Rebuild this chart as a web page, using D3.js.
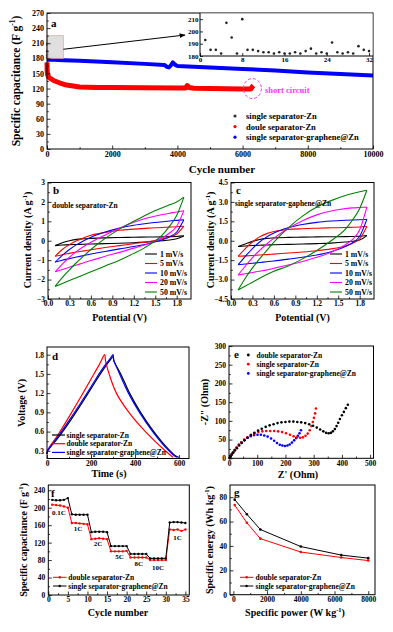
<!DOCTYPE html>
<html>
<head>
<meta charset="utf-8">
<script src="https://cdn.jsdelivr.net/npm/d3@7"></script>
<style>
body { margin: 0; background: #fff; }
text { font-family: "Liberation Serif", "Times New Roman", serif; font-weight: bold; fill: #000; }
</style>
</head>
<body>
<svg id="fig" width="393" height="632"></svg>
<script>
// ---- panel a : cycling ----
var insetCycle = d3.range(1, 33);
var insetCap = [193, 185, 185, 182, 207, 195, 182, 210, 185, 185, 184, 183, 183, 182, 183, 182,
                182, 183, 182, 184, 186, 182, 183, 182, 191, 183, 182, 183, 182, 188, 185, 184];
var blueCycle = [0, 200, 500, 1000, 2000, 3000, 3600, 3680, 3740, 3800, 3860, 3900, 3960, 4000, 5000, 6000, 7000, 8000, 9000, 10000];
var blueCap   = [177, 177, 176, 175, 172, 169, 167, 163, 162, 166, 172, 169, 166, 165, 162, 159, 156, 152, 149, 146];
var redCycle = [0, 5, 20, 50, 100, 200, 400, 600, 1000, 1500, 2000, 3000, 4000, 4250, 4300, 4360, 4500, 5000, 6000, 6250, 6300, 6330];
var redCap   = [172, 155, 147, 143, 140, 136, 131, 127, 123, 122, 122, 121.5, 121, 121, 126, 122, 120.5, 120, 119, 119, 124, 126];
var legendA = ['single separator-Zn', 'doule separator-Zn', 'single separator-graphene@Zn'];

// ---- panels b, c : CV ----
var scanRates = ['1 mV/s', '5 mV/s', '10 mV/s', '20 mV/s', '50 mV/s'];
var cvColors = ['#000000', '#ff0000', '#0000ff', '#ff00ff', '#008000'];
var cvV = [0.1, 0.2, 0.3, 0.4, 0.5, 0.6, 0.8, 1.0, 1.2, 1.4, 1.6, 1.7, 1.8, 1.9];
var cvBUp = [
  [-0.25, -0.1, 0.0, 0.07, 0.1, 0.12, 0.15, 0.17, 0.18, 0.19, 0.2, 0.21, 0.22, 0.25],
  [-0.8, -0.45, -0.2, 0.0, 0.15, 0.28, 0.43, 0.54, 0.6, 0.65, 0.68, 0.7, 0.72, 0.75],
  [-1.1, -0.75, -0.45, -0.2, 0.0, 0.18, 0.45, 0.65, 0.8, 0.9, 0.98, 1.02, 1.05, 1.08],
  [-1.6, -1.2, -0.85, -0.55, -0.3, -0.08, 0.3, 0.65, 0.95, 1.18, 1.35, 1.42, 1.48, 1.55],
  [-2.35, -1.9, -1.5, -1.12, -0.78, -0.45, 0.12, 0.6, 1.0, 1.38, 1.7, 1.85, 2.0, 2.25]
];
var cvBDown = [
  [-0.25, -0.22, -0.2, -0.19, -0.18, -0.17, -0.15, -0.13, -0.1, -0.06, 0.0, 0.04, 0.1, 0.25],
  [-0.8, -0.72, -0.65, -0.58, -0.52, -0.46, -0.35, -0.25, -0.15, -0.05, 0.1, 0.2, 0.35, 0.75],
  [-1.1, -1.0, -0.92, -0.84, -0.76, -0.68, -0.55, -0.42, -0.3, -0.15, 0.05, 0.2, 0.45, 1.08],
  [-1.6, -1.48, -1.36, -1.25, -1.13, -1.02, -0.8, -0.6, -0.38, -0.15, 0.15, 0.4, 0.75, 1.55],
  [-2.35, -2.2, -2.05, -1.9, -1.75, -1.6, -1.3, -1.0, -0.65, -0.25, 0.3, 0.75, 1.3, 2.25]
];
var cvCUp = [
  [-0.45, -0.25, -0.05, 0.1, 0.18, 0.22, 0.26, 0.28, 0.3, 0.31, 0.32, 0.33, 0.35, 0.4],
  [-1.2, -0.6, -0.1, 0.3, 0.55, 0.72, 0.87, 0.93, 0.97, 1.0, 1.02, 1.04, 1.06, 1.1],
  [-1.85, -1.2, -0.6, -0.1, 0.3, 0.6, 1.0, 1.25, 1.42, 1.52, 1.58, 1.6, 1.62, 1.65],
  [-2.65, -1.95, -1.3, -0.75, -0.25, 0.2, 0.95, 1.55, 2.0, 2.3, 2.48, 2.54, 2.57, 2.6],
  [-3.8, -2.9, -2.1, -1.4, -0.75, -0.1, 1.0, 1.9, 2.6, 3.1, 3.5, 3.65, 3.78, 3.9]
];
var cvCDown = [
  [-0.45, -0.4, -0.37, -0.35, -0.33, -0.31, -0.28, -0.25, -0.22, -0.18, -0.1, -0.04, 0.06, 0.4],
  [-1.2, -1.17, -1.14, -1.1, -1.07, -1.03, -0.95, -0.87, -0.77, -0.63, -0.4, -0.2, 0.15, 1.1],
  [-1.85, -1.8, -1.74, -1.68, -1.62, -1.56, -1.42, -1.27, -1.1, -0.85, -0.45, -0.15, 0.35, 1.65],
  [-2.65, -2.55, -2.45, -2.35, -2.25, -2.13, -1.88, -1.6, -1.28, -0.88, -0.3, 0.1, 0.85, 2.6],
  [-3.8, -3.5, -3.2, -2.9, -2.6, -2.35, -1.95, -1.4, -0.75, 0.0, 0.9, 1.6, 2.5, 3.9]
];

// ---- panel d : GCD ----
var gcdNames = ['single separator-Zn', 'double separator-Zn', 'single separator-graphene@Zn'];
var gcdColors = ['#000000', '#ff0000', '#0000ff'];
var tBlack = [0, 3, 50, 100, 150, 200, 250, 290, 300, 304, 335, 375, 425, 485, 545, 585, 600];
var vBlack = [0.25, 0.3, 0.5, 0.74, 1.0, 1.27, 1.54, 1.73, 1.77, 1.7, 1.5, 1.2, 0.9, 0.6, 0.35, 0.22, 0.2];
var tRed = [0, 3, 50, 100, 150, 200, 240, 262, 266, 282, 315, 372, 447, 537, 572];
var vRed = [0.25, 0.31, 0.55, 0.83, 1.12, 1.42, 1.66, 1.8, 1.7, 1.5, 1.2, 0.9, 0.6, 0.3, 0.2];
var tBlue = [0, 3, 50, 100, 150, 200, 250, 285, 300, 303, 330, 370, 420, 480, 540, 580, 592];
var vBlue = [0.25, 0.3, 0.52, 0.77, 1.03, 1.3, 1.57, 1.73, 1.8, 1.72, 1.5, 1.2, 0.9, 0.6, 0.35, 0.22, 0.2];

// ---- panel e : EIS ----
var eisNames = ['double separator-Zn', 'single separator-Zn', 'single separator-graphene@Zn'];
var eisColors = ['#000000', '#ff0000', '#0000ff'];
var reBlack = [3, 6, 10, 15, 21, 28, 36, 45, 55, 66, 78, 90, 103, 116, 130, 144, 158, 172, 186, 200, 214, 228, 242, 256, 270, 284, 298, 311, 323, 334, 344, 353, 361, 368, 375, 381, 387, 393, 400, 407, 414, 421];
var imBlack = [1, 5, 10, 15, 21, 27, 34, 41, 48, 55, 62, 68, 74, 79, 84, 88, 91, 94, 96, 97, 98, 98, 97, 96, 94, 91, 87, 82, 77, 72, 68, 67, 68, 72, 78, 86, 95, 105, 115, 124, 134, 143];
var reRed = [2, 5, 9, 14, 20, 27, 35, 44, 54, 65, 77, 90, 104, 118, 132, 146, 160, 174, 188, 202, 216, 229, 241, 252, 262, 271, 279, 286, 292, 297, 301, 305, 308];
var imRed = [1, 5, 10, 16, 22, 29, 36, 43, 50, 56, 62, 66, 70, 72, 73, 73, 73, 72, 70, 67, 63, 59, 56, 55, 56, 60, 66, 75, 86, 97, 108, 120, 133];
var reBlue = [2, 5, 9, 14, 20, 27, 35, 44, 54, 65, 77, 89, 101, 113, 125, 137, 149, 160, 170, 180, 189, 198, 207, 215, 223, 231, 238, 244, 250, 255];
var imBlue = [1, 5, 10, 16, 22, 29, 36, 43, 49, 55, 59, 62, 63, 63, 61, 58, 53, 47, 41, 36, 34, 33, 34, 37, 42, 48, 54, 60, 67, 75];

// ---- panel f : rate ----
var rateCycle = d3.range(1, 36);
var rateRed = [207, 206, 205, 203, 200, 165, 165, 164, 163, 162, 128, 129, 130, 129, 128, 100, 100, 100, 100, 101,
               86, 86, 86, 86, 86, 80, 80, 80, 80, 80, 150, 149, 150, 147, 150];
var rateBlack = [218, 217, 217, 218, 222, 185, 184, 184, 184, 184, 144, 145, 145, 145, 144, 112, 112, 112, 112, 112,
                 94, 94, 94, 94, 94, 84, 84, 84, 84, 84, 166, 167, 167, 166, 165];
var rateLabels = ['0.1C', '1C', '2C', '5C', '8C', '10C', '1C'];
var twoNames = ['double separator-Zn', 'single separator-graphene@Zn'];

// ---- panel g : Ragone ----
var power = [80, 800, 1600, 4000, 6400, 8000];
var energyRed = [73.5, 59, 46, 35, 30.5, 28];
var energyBlack = [78, 66, 53.5, 39.5, 32.5, 30];

var svg = d3.select('#fig');

function panel(box, xDom, yDom) {
	var x = d3.scaleLinear().domain(xDom).range([box.l, box.r]);
	var y = d3.scaleLinear().domain(yDom).range([box.b, box.t]);
	return { x: x, y: y, box: box };
}

// inward ticks + frame, like Origin
function axes(p, xTicks, yTicks, fs, xFmt, yFmt) {
	var b = p.box;
	var minor = function(t) {
		var m = [];
		for (var i = 0; i < t.length - 1; i++) m.push((t[i] + t[i + 1]) / 2);
		return m;
	};
	var g1 = svg.append('g').attr('transform', 'translate(0,' + b.b + ')')
		.call(d3.axisBottom(p.x).tickValues(minor(xTicks)).tickSizeInner(-1.8).tickSizeOuter(0).tickFormat(''));
	var g2 = svg.append('g').attr('transform', 'translate(' + b.l + ',0)')
		.call(d3.axisLeft(p.y).tickValues(minor(yTicks)).tickSizeInner(-1.8).tickSizeOuter(0).tickFormat(''));
	var gx = svg.append('g').attr('transform', 'translate(0,' + b.b + ')')
		.call(d3.axisBottom(p.x).tickValues(xTicks).tickSizeInner(-3.5).tickSizeOuter(0).tickPadding(2).tickFormat(xFmt));
	var gy = svg.append('g').attr('transform', 'translate(' + b.l + ',0)')
		.call(d3.axisLeft(p.y).tickValues(yTicks).tickSizeInner(-3.5).tickSizeOuter(0).tickPadding(3).tickFormat(yFmt));
	[g1, g2, gx, gy].forEach(function(g) {
		g.select('.domain').remove();
		g.selectAll('text').style('font-size', fs + 'px').attr('fill', '#000');
		g.selectAll('line').attr('stroke', '#000').attr('stroke-width', 0.8);
	});
	svg.append('rect').attr('x', b.l).attr('y', b.t).attr('width', b.r - b.l).attr('height', b.b - b.t)
		.attr('fill', 'none').attr('stroke', '#000').attr('stroke-width', 1);
}

function title(x, y, fs, parts, rotate) {
	var t = svg.append('text').attr('text-anchor', 'middle').style('font-size', fs + 'px');
	if (rotate) t.attr('transform', 'translate(' + x + ',' + y + ') rotate(-90)');
	else t.attr('x', x).attr('y', y);
	t.append('tspan').text(parts[0]);
	if (parts.length > 1) {
		t.append('tspan').attr('dy', -fs * 0.4).style('font-size', (fs * 0.65) + 'px').text(parts[1]);
		t.append('tspan').attr('dy', fs * 0.4).text(parts[2]);
	}
}

function label(x, y, fs, s, color) {
	return svg.append('text').attr('x', x).attr('y', y).style('font-size', fs + 'px')
		.attr('fill', color || '#000').style('fill', color || '#000').text(s);
}

var f1 = d3.format('.1f');
var fd = d3.format('d');

// ================= panel a =================
var pa = panel({ l: 47, r: 373, t: 13, b: 149 }, [0, 10000], [0, 270]);
var lineA = d3.line().x(function(d) { return pa.x(d[0]); }).y(function(d) { return pa.y(d[1]); });
svg.append('path').datum(d3.zip(redCycle, redCap)).attr('d', lineA)
	.attr('fill', 'none').attr('stroke', '#ff0000').attr('stroke-width', 5).attr('stroke-linejoin', 'round');
svg.append('path').datum(d3.zip(blueCycle, blueCap)).attr('d', lineA)
	.attr('fill', 'none').attr('stroke', '#0000ff').attr('stroke-width', 4).attr('stroke-linejoin', 'round');
svg.selectAll('.dotA').data(d3.zip(insetCycle, insetCap)).enter().append('circle')
	.attr('cx', function(d) { return pa.x(d[0]); }).attr('cy', function(d) { return pa.y(d[1]); })
	.attr('r', 1.2).attr('fill', '#333');
// zoom box + arrow
svg.append('rect').attr('x', pa.x(0)).attr('y', pa.y(225)).attr('width', pa.x(500) - pa.x(0))
	.attr('height', pa.y(180) - pa.y(225)).attr('fill', '#d9d9d9').attr('fill-opacity', 0.85)
	.attr('stroke', '#f3a0a0').attr('stroke-width', 0.8);
svg.append('defs').append('marker').attr('id', 'arr').attr('viewBox', '0 0 10 10').attr('refX', 9).attr('refY', 5)
	.attr('markerWidth', 6).attr('markerHeight', 6).attr('orient', 'auto')
	.append('path').attr('d', 'M0,1 L10,5 L0,9 Z').attr('fill', '#000');
svg.append('line').attr('x1', pa.x(500)).attr('y1', pa.y(198)).attr('x2', 185).attr('y2', 35)
	.attr('stroke', '#000').attr('stroke-width', 1).attr('marker-end', 'url(#arr)');
axes(pa, d3.range(0, 10001, 2000), d3.range(0, 271, 30), 8, fd, fd);

// inset
var pi = panel({ l: 200, r: 373, t: 13, b: 56 }, [0, 32.75], [180, 215]);
svg.append('rect').attr('x', 200).attr('y', 13.5).attr('width', 172.5).attr('height', 42.5).attr('fill', '#fff');
var gix = svg.append('g').attr('transform', 'translate(0,56)')
	.call(d3.axisBottom(pi.x).tickValues([0, 8, 16, 24, 32]).tickSizeInner(-3).tickSizeOuter(0).tickPadding(1));
var giy = svg.append('g').attr('transform', 'translate(200,0)')
	.call(d3.axisLeft(pi.y).tickValues([180, 190, 200, 210]).tickSizeInner(-3).tickSizeOuter(0).tickPadding(1.5));
[gix, giy].forEach(function(g) {
	g.select('.domain').remove();
	g.selectAll('line').attr('stroke', '#000').attr('stroke-width', 0.8);
	g.selectAll('text').style('font-size', '7px');
});
svg.append('line').attr('x1', 200).attr('x2', 373).attr('y1', 56).attr('y2', 56).attr('stroke', '#000').attr('stroke-width', 1);
svg.append('line').attr('x1', 200).attr('x2', 200).attr('y1', 13).attr('y2', 56).attr('stroke', '#000').attr('stroke-width', 1);
svg.selectAll('.dotI').data(d3.zip(insetCycle, insetCap)).enter().append('circle')
	.attr('cx', function(d) { return pi.x(d[0]); }).attr('cy', function(d) { return pi.y(d[1]); })
	.attr('r', 1.3).attr('fill', '#222');

// short circuit
svg.append('ellipse').attr('cx', pa.x(6300)).attr('cy', pa.y(120)).attr('rx', 9).attr('ry', 10)
	.attr('fill', 'none').attr('stroke', '#ff33ff').attr('stroke-width', 1).attr('stroke-dasharray', '3,2');
label(265, 93, 8.5, 'short circuit', '#ff33ff');

// legend a
var legColA = ['#333', '#ff0000', '#0000ff'];
legendA.forEach(function(s, i) {
	var yy = 116 + i * 10.6;
	svg.append('circle').attr('cx', 235).attr('cy', yy).attr('r', 1.6).attr('fill', legColA[i]);
	label(246, yy + 3, 8.5, s);
});
label(51, 27, 11, 'a');
title(20, 81, 11.5, ['Specific capacitance (F g', '-1', ')'], true);
title(222, 173, 11, ['Cycle number']);

// ================= panels b and c =================
function cvPanel(box, yDom, yTicks, yFmt, up, down, tag, note, legX) {
	var p = panel(box, [0, 2.0], yDom);
	var ln = d3.line().curve(d3.curveMonotoneX).x(function(d) { return p.x(d[0]); }).y(function(d) { return p.y(d[1]); });
	for (var k = 0; k < up.length; k++) {
		svg.append('path').datum(d3.zip(cvV, up[k])).attr('d', ln)
			.attr('fill', 'none').attr('stroke', cvColors[k]).attr('stroke-width', 1.1);
		svg.append('path').datum(d3.zip(cvV, down[k])).attr('d', ln)
			.attr('fill', 'none').attr('stroke', cvColors[k]).attr('stroke-width', 1.1);
	}
	axes(p, [0, 0.3, 0.6, 0.9, 1.2, 1.5, 1.8], yTicks, 7.5, f1, yFmt);
	scanRates.forEach(function(s, i) {
		var yy = 254 + i * 9.5;
		svg.append('line').attr('x1', legX).attr('x2', legX + 12).attr('y1', yy).attr('y2', yy)
			.attr('stroke', cvColors[i]).attr('stroke-width', 1.1);
		label(legX + 15, yy + 2.8, 7.8, s);
	});
	label(box.l + 5, 194, 11, tag);
	label(box.l + note[0], note[1], 7.5, note[2]);
	title((box.l + box.r) / 2, 321, 10, ['Potential (V)']);
	title(box.l - 17, 240, 10, ['Current density (A g', '-1', ')'], true);
}
cvPanel({ l: 48, r: 191, t: 182.5, b: 299 }, [-3, 3], [-3, -2, -1, 0, 1, 2, 3], fd, cvBUp, cvBDown, 'b',
	[4, 207.5, 'double separator-Zn'], 145);
cvPanel({ l: 231, r: 374, t: 182.5, b: 299 }, [-4.5, 4.5], [-4.5, -3, -1.5, 0, 1.5, 3, 4.5], f1, cvCUp, cvCDown, 'c',
	[4, 206, 'single separator-gaphene@Zn'], 330);

// ================= panel d =================
var pd = panel({ l: 47, r: 189, t: 347, b: 458.5 }, [0, 645], [0.18, 1.92]);
var lineD = d3.line().curve(d3.curveCatmullRom.alpha(0.5)).x(function(d) { return pd.x(d[0]); }).y(function(d) { return pd.y(d[1]); });
[[tBlack, vBlack], [tRed, vRed], [tBlue, vBlue]].forEach(function(s, i) {
	svg.append('path').datum(d3.zip(s[0], s[1])).attr('d', lineD)
		.attr('fill', 'none').attr('stroke', gcdColors[i]).attr('stroke-width', 1.2);
});
axes(pd, [0, 200, 400, 600], [0.3, 0.6, 0.9, 1.2, 1.5, 1.8], 7.5, fd, f1);
gcdNames.forEach(function(s, i) {
	var yy = 435 + i * 8.7;
	svg.append('line').attr('x1', 52).attr('x2', 65).attr('y1', yy).attr('y2', yy)
		.attr('stroke', gcdColors[i]).attr('stroke-width', 1.2);
	label(66.5, yy + 2.6, 7.5, s);
});
label(52, 360, 11, 'd');
title(109, 477, 10, ['Time (s)']);
title(25, 403, 10, ['Voltage (V)'], true);

// ================= panel e =================
var pe = panel({ l: 229, r: 373.5, t: 346, b: 458.3 }, [0, 512], [0, 300]);
[[reBlue, imBlue, 2], [reRed, imRed, 1], [reBlack, imBlack, 0]].forEach(function(s) {
	svg.append('g').selectAll('circle').data(d3.zip(s[0], s[1])).enter().append('circle')
		.attr('cx', function(d) { return pe.x(d[0]); }).attr('cy', function(d) { return pe.y(d[1]); })
		.attr('r', 1.3).attr('fill', eisColors[s[2]]);
});
axes(pe, d3.range(0, 501, 100), d3.range(0, 301, 50), 7.5, fd, fd);
eisNames.forEach(function(s, i) {
	var yy = 355 + i * 9.2;
	svg.append('circle').attr('cx', 248.3).attr('cy', yy).attr('r', 1.4).attr('fill', eisColors[i]);
	label(256.5, yy + 2.6, 7.5, s);
});
label(234, 358, 11, 'e');
title(298, 478, 10, ["Z' (Ohm)"]);
title(208, 402, 10, ['-Z" (Ohm)'], true);

// ================= panel f =================
var pf = panel({ l: 48.3, r: 189.3, t: 485, b: 595 }, [0, 36], [0, 252]);
var lineF = d3.line().x(function(d) { return pf.x(d[0]); }).y(function(d) { return pf.y(d[1]); });
[[rateRed, '#ff0000'], [rateBlack, '#000000']].forEach(function(s) {
	var pts = d3.zip(rateCycle, s[0]);
	svg.append('path').datum(pts).attr('d', lineF)
		.attr('fill', 'none').attr('stroke', s[1]).attr('stroke-width', 1);
	svg.append('g').selectAll('circle').data(pts).enter().append('circle')
		.attr('cx', function(d) { return pf.x(d[0]); }).attr('cy', function(d) { return pf.y(d[1]); })
		.attr('r', 1.2).attr('fill', s[1]);
});
var rateLabelAt = [[2.7, 189], [7.6, 152], [12.7, 118], [18.2, 87], [23.1, 73], [28, 64], [33, 132.5]];
rateLabels.forEach(function(s, i) {
	svg.append('text').attr('x', pf.x(rateLabelAt[i][0])).attr('y', pf.y(rateLabelAt[i][1]))
		.attr('dy', '0.35em').attr('text-anchor', 'middle').style('font-size', '7px').text(s);
});
axes(pf, d3.range(0, 36, 5), d3.range(0, 241, 40), 7.5, fd, fd);
var twoColors = ['#ff0000', '#000000'];
twoNames.forEach(function(s, i) {
	var yy = 577.3 + i * 8.7;
	svg.append('line').attr('x1', 53).attr('x2', 66.5).attr('y1', yy).attr('y2', yy).attr('stroke', twoColors[i]);
	svg.append('circle').attr('cx', 59.7).attr('cy', yy).attr('r', 1.2).attr('fill', twoColors[i]);
	label(68.3, yy + 2.6, 7.5, s);
});
label(51, 497, 11, 'f');
title(118, 616, 10, ['Cycle number']);
title(27, 540, 10, ['Specific capacitance (F g', '-1', ')'], true);

// ================= panel g =================
var pg = panel({ l: 230, r: 375, t: 485, b: 594.7 }, [-200, 8400], [0, 90]);
var lineG = d3.line().x(function(d) { return pg.x(d[0]); }).y(function(d) { return pg.y(d[1]); });
[[energyRed, '#ff0000'], [energyBlack, '#000000']].forEach(function(s) {
	var pts = d3.zip(power, s[0]);
	svg.append('path').datum(pts).attr('d', lineG).attr('fill', 'none').attr('stroke', s[1]).attr('stroke-width', 1);
	svg.append('g').selectAll('circle').data(pts).enter().append('circle')
		.attr('cx', function(d) { return pg.x(d[0]); }).attr('cy', function(d) { return pg.y(d[1]); })
		.attr('r', 1.3).attr('fill', s[1]);
});
axes(pg, d3.range(0, 8001, 2000), d3.range(0, 81, 20), 7.5, fd, fd);
twoNames.forEach(function(s, i) {
	var yy = 577.3 + i * 8.7;
	svg.append('line').attr('x1', 240).attr('x2', 253.3).attr('y1', yy).attr('y2', yy).attr('stroke', twoColors[i]);
	svg.append('circle').attr('cx', 246.6).attr('cy', yy).attr('r', 1.2).attr('fill', twoColors[i]);
	label(255.5, yy + 2.6, 7.5, s);
});
label(234, 496, 11, 'g');
title(295, 616, 10, ['Specific power (W kg', '-1', ')']);
title(213, 540, 10, ['Specific energy (Wh kg', '-1', ')'], true);
</script>
</body>
</html>
